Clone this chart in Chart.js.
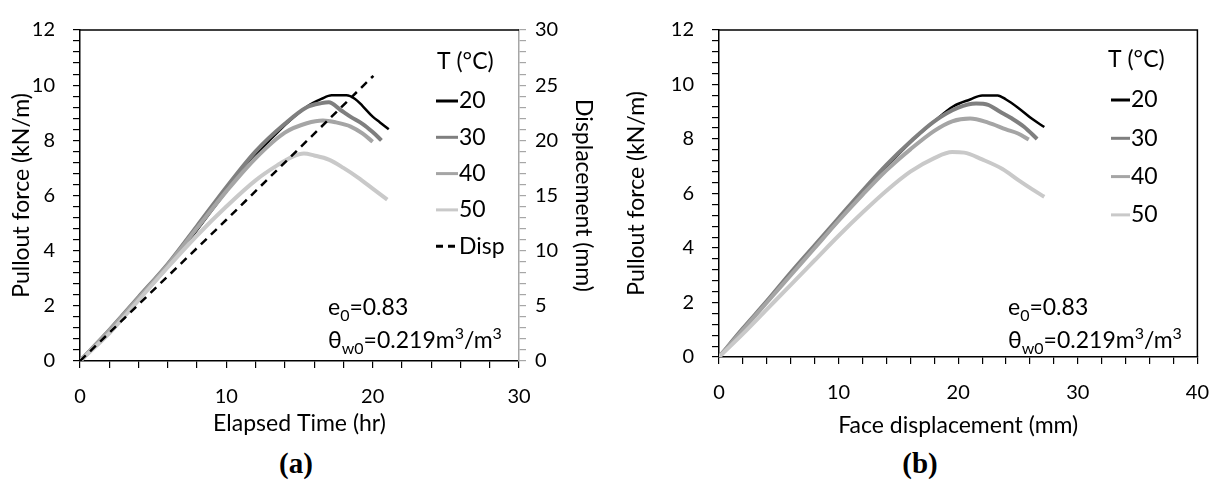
<!DOCTYPE html>
<html>
<head>
<meta charset="utf-8">
<script src="https://cdn.jsdelivr.net/npm/chart.js@4.4.0/dist/chart.umd.min.js"></script>
<style>
  body { margin: 0; width: 1226px; height: 483px; background: #fff; position: relative; overflow: hidden; font-family: Lato, sans-serif; }
  canvas { position: absolute; top: 0; }
  #chartA { left: 0; }
  #chartB { left: 620px; }
  .note { position: absolute; font-size: 23px; line-height: 28px; color: #000; white-space: nowrap; }
  .note sub { font-size: 16px; vertical-align: -6px; line-height: 0; }
  .note sup { font-size: 16px; vertical-align: 9px; line-height: 0; }
  .cap { position: absolute; top: 447px; line-height: 36px; font: bold 29px "Liberation Serif", serif; transform: translateX(-50%); }
</style>
</head>
<body>
<canvas id="chartA" width="620" height="440"></canvas>
<canvas id="chartB" width="606" height="440"></canvas>

<div class="note" style="left:328px;top:292px">e<sub>0</sub>=0.83</div>
<div class="note" style="left:328px;top:325px">&theta;<sub>w0</sub>=0.219m<sup>3</sup>/m<sup>3</sup></div>
<div class="note" style="left:1008px;top:292px">e<sub>0</sub>=0.83</div>
<div class="note" style="left:1008px;top:325px">&theta;<sub>w0</sub>=0.219m<sup>3</sup>/m<sup>3</sup></div>
<div class="cap" style="left:296px">(a)</div>
<div class="cap" style="left:920px">(b)</div>

<script>
// (a) pullout force vs elapsed time
const timeA20 = [0, 2, 4, 6, 8, 10, 12, 14, 15.5, 16.5, 17.2, 18.2, 18.8, 19.3, 20, 20.5, 21.1];
const forceA20 = [0, 1.05, 2.22, 3.4, 4.75, 6.15, 7.45, 8.55, 9.22, 9.5, 9.63, 9.63, 9.5, 9.25, 8.86, 8.65, 8.4];
const timeA30 = [0, 2, 4, 6, 8, 10, 12, 14, 15.5, 16.5, 17, 17.8, 18.5, 19.3, 20, 20.6];
const forceA30 = [0, 1.12, 2.32, 3.52, 4.9, 6.3, 7.6, 8.6, 9.2, 9.35, 9.38, 9.1, 8.85, 8.6, 8.3, 8.0];
const timeA40 = [0, 2, 4, 6, 8, 10, 12, 14, 15.5, 16.6, 17.5, 18.5, 19.3, 20];
const forceA40 = [0, 1.1, 2.28, 3.48, 4.82, 6.15, 7.35, 8.28, 8.62, 8.72, 8.65, 8.5, 8.25, 7.95];
const timeA50 = [0, 2, 4, 6, 8, 10, 12, 13.5, 14.5, 15.3, 16, 17, 18, 19, 20, 21];
const forceA50 = [0, 1.0, 2.2, 3.4, 4.55, 5.6, 6.55, 7.1, 7.4, 7.52, 7.45, 7.3, 7.0, 6.65, 6.25, 5.85];
const timeDisp = [0, 10, 20.05];
const dispMm = [0, 12.8, 25.85];

// (b) pullout force vs face displacement
const dispB20 = [0, 2, 4, 6, 8, 10, 12, 14, 16, 18, 19.6, 21, 22, 23.3, 24, 25, 26.2, 27.2];
const forceB20 = [0, 1.0, 2.0, 3.02, 4.0, 5.0, 6.0, 6.97, 7.88, 8.65, 9.2, 9.45, 9.6, 9.6, 9.45, 9.15, 8.73, 8.44];
const dispB30 = [0, 2, 4, 6, 8, 10, 12, 14, 16, 18, 20, 21.5, 22.5, 23.5, 24.5, 25.5, 26.6];
const forceB30 = [0, 1.05, 2.05, 3.1, 4.1, 5.1, 6.1, 7.05, 7.9, 8.65, 9.15, 9.3, 9.25, 9.0, 8.75, 8.45, 8.0];
const dispB40 = [0, 2, 4, 6, 8, 10, 12, 14, 16, 18, 19.5, 21, 22.5, 24, 25, 25.9];
const forceB40 = [0, 1.0, 2.0, 3.0, 4.0, 5.0, 5.95, 6.85, 7.62, 8.3, 8.65, 8.75, 8.6, 8.35, 8.2, 7.98];
const dispB50 = [0, 2, 4, 6, 8, 10, 12, 14, 16, 18, 19.5, 20.5, 22, 23.7, 25, 26.2, 27.2];
const forceB50 = [0, 0.85, 1.75, 2.65, 3.55, 4.45, 5.3, 6.1, 6.8, 7.3, 7.52, 7.5, 7.25, 6.9, 6.5, 6.15, 5.88];

const tempLabels = ['20', '30', '40', '50'];
const tempColors = ['#000000', '#7f7f7f', '#a5a5a5', '#c9c9c9'];
const tempWidths = [2.5, 4, 4, 4];

Chart.defaults.font.family = 'Lato, sans-serif';
Chart.defaults.font.size = 20;
Chart.defaults.color = '#000';

const titleFont = { size: 23 };
const pts = (xs, ys) => xs.map((v, i) => ({ x: v, y: ys[i] }));
const every = (step) => (v) => Math.abs(v - Math.round(v / step) * step) < 1e-6 ? Math.round(v) : '';

// top / right border of the plot box
const frame = {
  id: 'frame',
  beforeDatasetsDraw(chart, args, opts) {
    const { left, right, top, bottom } = chart.chartArea;
    const ctx = chart.ctx;
    ctx.save();
    ctx.strokeStyle = '#000';
    ctx.lineWidth = 1.5;
    ctx.beginPath();
    ctx.moveTo(left, top);
    ctx.lineTo(right, top);
    if (opts.right) ctx.lineTo(right, bottom);
    ctx.stroke();
    ctx.restore();
  }
};

// legend drawn inside the plot box
const sideLegend = {
  id: 'sideLegend',
  afterDraw(chart, args, opts) {
    const ctx = chart.ctx;
    ctx.save();
    ctx.font = '23px Lato, sans-serif';
    ctx.fillStyle = '#000';
    ctx.textBaseline = 'middle';
    ctx.fillText(opts.header, opts.headerX, opts.headerY);
    chart.data.datasets.forEach((ds, i) => {
      const y = opts.y0 + i * opts.step;
      ctx.strokeStyle = ds.borderColor;
      ctx.lineWidth = 3;
      ctx.setLineDash(ds.borderDash ? [7, 5] : []);
      ctx.beginPath();
      ctx.moveTo(opts.x, y);
      ctx.lineTo(opts.x + opts.len, y);
      ctx.stroke();
      ctx.setLineDash([]);
      ctx.fillText(ds.label, opts.x + opts.len + 1, y);
    });
    ctx.restore();
  }
};

function tempSets(xsList, ysList) {
  return tempLabels.map((lab, i) => ({
    label: lab,
    data: pts(xsList[i], ysList[i]),
    borderColor: tempColors[i],
    borderWidth: tempWidths[i],
    pointRadius: 0,
    cubicInterpolationMode: 'monotone',
    order: 5 - i,
    yAxisID: 'y'
  }));
}

function axis(color, step, labelStep, pad, extra) {
  return Object.assign({
    type: 'linear',
    ticks: { stepSize: step, autoSkip: false, maxRotation: 0, minRotation: 0, padding: pad, callback: every(labelStep), color: '#000' },
    grid: { drawOnChartArea: false, drawTicks: true, tickLength: 7, color: color, lineWidth: 1.2 },
    border: { display: true, color: color, width: 1.5 }
  }, extra);
}

const dsA = tempSets([timeA20, timeA30, timeA40, timeA50], [forceA20, forceA30, forceA40, forceA50]);
dsA.push({
  label: 'Disp',
  data: pts(timeDisp, dispMm),
  borderColor: '#000',
  borderWidth: 2.5,
  borderDash: [8, 6],
  pointRadius: 0,
  yAxisID: 'y2',
  order: 0
});

new Chart(document.getElementById('chartA'), {
  type: 'line',
  data: { datasets: dsA },
  plugins: [frame, sideLegend],
  options: {
    responsive: false,
    animation: false,
    layout: { padding: { top: 25, left: 0, right: 0, bottom: 0 } },
    plugins: {
      legend: { display: false },
      tooltip: { enabled: false },
      frame: { right: false },
      sideLegend: { header: 'T (°C)', headerX: 437, headerY: 62, x: 436, len: 22, y0: 101, step: 36.3 }
    },
    scales: {
      x: axis('#000', 2, 10, 17, {
        min: 0, max: 30,
        title: { display: true, text: 'Elapsed Time (hr)', font: titleFont, padding: { top: 0, bottom: 3 } },
        afterFit: (s) => { s.height = 79; }
      }),
      y: axis('#000', 0.4, 2, 18, {
        min: 0, max: 12, position: 'left',
        title: { display: true, text: 'Pullout force (kN/m)', font: titleFont, padding: { top: 8, bottom: 0 } },
        afterFit: (s) => { s.width = 80; }
      }),
      y2: axis('#a6a6a6', 1, 5, 9, {
        min: 0, max: 30, position: 'right',
        title: { display: true, text: 'Displacement (mm)', font: titleFont, padding: { top: 23, bottom: 0 } },
        afterFit: (s) => { s.width = 101; }
      })
    }
  }
});

new Chart(document.getElementById('chartB'), {
  type: 'line',
  data: { datasets: tempSets([dispB20, dispB30, dispB40, dispB50], [forceB20, forceB30, forceB40, forceB50]) },
  plugins: [frame, sideLegend],
  options: {
    responsive: false,
    animation: false,
    layout: { padding: { top: 20, left: 0, right: 21, bottom: 0 } },
    plugins: {
      legend: { display: false },
      tooltip: { enabled: false },
      frame: { right: true },
      sideLegend: { header: 'T (°C)', headerX: 488, headerY: 60, x: 491, len: 19, y0: 100, step: 38.3 }
    },
    scales: {
      x: axis('#000', 2, 10, 17, {
        min: 0, max: 40,
        title: { display: true, text: 'Face displacement (mm)', font: titleFont, padding: { top: 0, bottom: 1 } },
        afterFit: (s) => { s.height = 83; }
      }),
      y: axis('#000', 0.4, 2, 18, {
        min: 0, max: 12, position: 'left',
        title: { display: true, text: 'Pullout force (kN/m)', font: titleFont, padding: { top: 3, bottom: 0 } },
        afterFit: (s) => { s.width = 99; }
      })
    }
  }
});
</script>
</body>
</html>
